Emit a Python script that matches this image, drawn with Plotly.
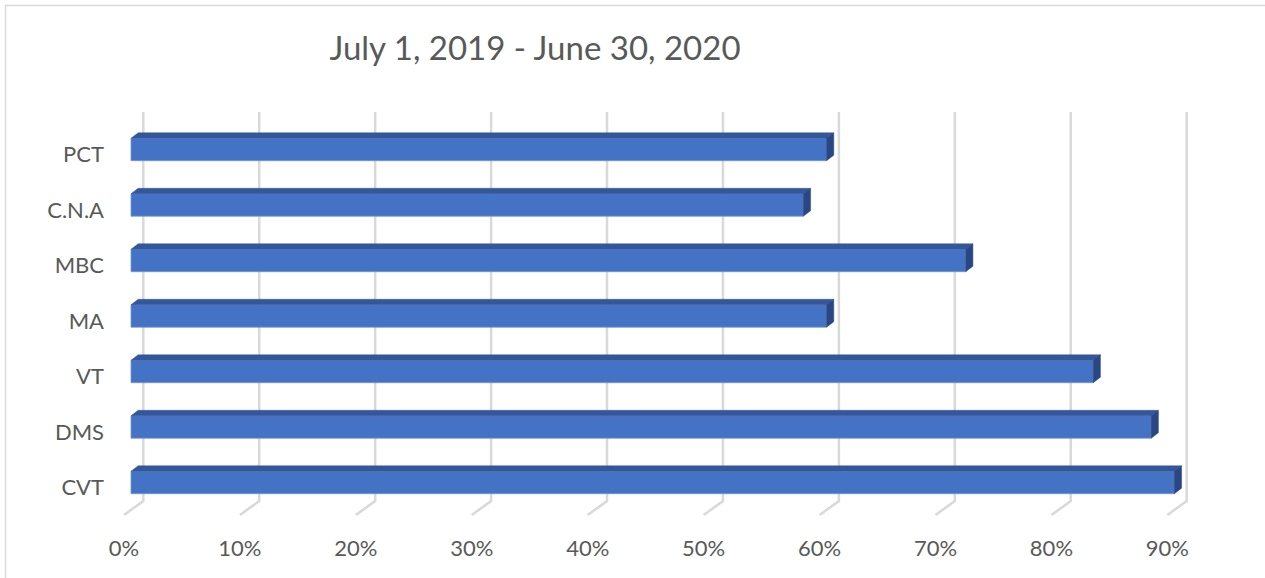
import plotly.graph_objects as go

# Programme completion rates, July 2019 - June 2020
categories = ["CVT", "DMS", "VT", "MA", "MBC", "C.N.A", "PCT"]
completion_pct = [90, 88, 83, 60, 72, 58, 60]
tick_values = [0, 10, 20, 30, 40, 50, 60, 70, 80, 90]
tick_labels = ["0%", "10%", "20%", "30%", "40%", "50%", "60%", "70%", "80%", "90%"]
title_text = "July 1, 2019 - June 30, 2020"

# Canvas and plot-area geometry (pixels)
W, H = 1265, 578
PLOT_L, PLOT_R, PLOT_T, PLOT_B = 110, 1200, 100, 520
PX_PER_PCT = 11.593          # horizontal scale
X0_PX = 131                   # bar front face at 0%
Y0_PX = 482.5                 # centre of the lowest bar
PX_PER_CAT = 55.5             # category spacing
BAR_PX = 22.4                 # bar thickness

# 3-D depth of bar faces and floor (pixels)
BAR_DX, BAR_DY = 7.2, 5.5
WALL_DX = 12.3                # back wall offset from bar front plane
FLOOR_DX = -7.0               # floor front edge offset from bar front plane
WALL_TOP_PX, WALL_BOT_PX, FLOOR_FRONT_PX = 112, 501, 515

x_range = [(PLOT_L - X0_PX) / PX_PER_PCT, (PLOT_R - X0_PX) / PX_PER_PCT]
y_range = [(Y0_PX - PLOT_B) / PX_PER_CAT, (Y0_PX - PLOT_T) / PX_PER_CAT]


def dx(px):
    return px / PX_PER_PCT


def dy(px):
    return px / PX_PER_CAT


def y_at(px):
    return (Y0_PX - px) / PX_PER_CAT


positions = list(range(len(categories)))
half = dy(BAR_PX) / 2

fig = go.Figure()

# Front faces of the bars
fig.add_trace(go.Bar(
    orientation="h",
    x=completion_pct,
    y=positions,
    width=2 * half,
    marker=dict(color="#4472C4", line=dict(color="#7596d2", width=0.8)),
    hoverinfo="skip",
))

# Top and end faces, offset into depth
top_x, top_y, side_x, side_y = [], [], [], []
for p, v in zip(positions, completion_pct):
    t, b = p + half, p - half
    top_x += [0, v, v + dx(BAR_DX), dx(BAR_DX), 0, None]
    top_y += [t, t, t + dy(BAR_DY), t + dy(BAR_DY), t, None]
    side_x += [v, v + dx(BAR_DX), v + dx(BAR_DX), v, v, None]
    side_y += [t, t + dy(BAR_DY), b + dy(BAR_DY), b, t, None]

fig.add_trace(go.Scatter(x=top_x, y=top_y, mode="lines", fill="toself",
                         fillcolor="#34569a", line=dict(color="#34569a", width=0.5),
                         hoverinfo="skip"))
fig.add_trace(go.Scatter(x=side_x, y=side_y, mode="lines", fill="toself",
                         fillcolor="#2a4784", line=dict(color="#2a4784", width=0.5),
                         hoverinfo="skip"))

# Back-wall gridlines bending onto the floor
shapes = []
for v in tick_values:
    xb = v + dx(WALL_DX)
    xf = v + dx(FLOOR_DX)
    path = (f"M {xb},{y_at(WALL_TOP_PX)} L {xb},{y_at(WALL_BOT_PX)} "
            f"L {xf},{y_at(FLOOR_FRONT_PX)}")
    shapes.append(dict(type="path", path=path, xref="x", yref="y", layer="below",
                       line=dict(color="#d9d9d9", width=2.5)))

# Chart frame
pw, ph = PLOT_R - PLOT_L, PLOT_B - PLOT_T
shapes.append(dict(type="rect", xref="paper", yref="paper", layer="below",
                   x0=(5.5 - PLOT_L) / pw, x1=(W + 10 - PLOT_L) / pw,
                   y0=(PLOT_B - (H + 10)) / ph, y1=(PLOT_B - 5.5) / ph,
                   line=dict(color="#d9d9d9", width=1.5), fillcolor="rgba(0,0,0,0)"))

font_color = "#595959"
fig.update_layout(
    width=W, height=H,
    margin=dict(l=PLOT_L, r=W - PLOT_R, t=PLOT_T, b=H - PLOT_B),
    paper_bgcolor="white", plot_bgcolor="white",
    showlegend=False,
    shapes=shapes,
    font=dict(family="Lato", color=font_color),
    title=dict(text=title_text, x=535 / W, xref="container", xanchor="center",
               y=1 - 48 / H, yref="container", yanchor="middle",
               font=dict(family="Lato", size=33, color=font_color)),
    xaxis=dict(range=x_range, tickvals=tick_values, ticktext=tick_labels,
               showgrid=False, zeroline=False, showline=False, ticks="",
               tickfont=dict(size=22, color=font_color),
               ticklabelshift=-7, ticklabelstandoff=13, fixedrange=True),
    yaxis=dict(range=y_range, tickvals=positions, ticktext=categories,
               showgrid=False, zeroline=False, showline=False, ticks="",
               tickfont=dict(size=22, color=font_color),
               ticklabelshift=5, ticklabelstandoff=5, fixedrange=True),
)

fig.write_html("out.html")
